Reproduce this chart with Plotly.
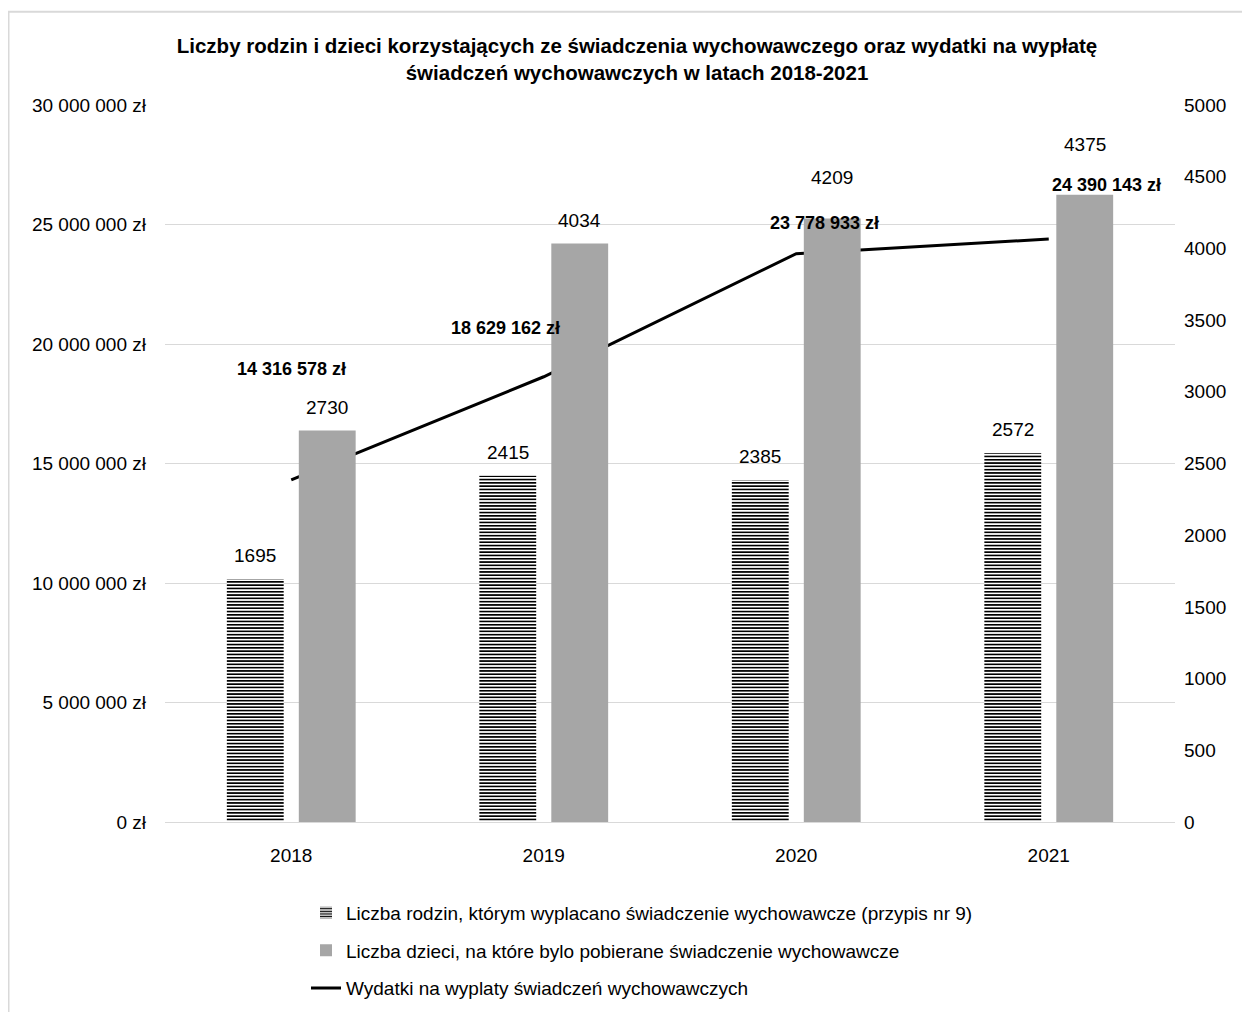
import plotly.graph_objects as go

years = ["2018", "2019", "2020", "2021"]
families = [1695, 2415, 2385, 2572]
children = [2730, 4034, 4209, 4375]
expenses = [14316578, 18629162, 23778933, 24390143]

left_ticks = [0, 5000000, 10000000, 15000000, 20000000, 25000000, 30000000]
left_ticktext = ["0 zł", "5 000 000 zł", "10 000 000 zł", "15 000 000 zł",
                 "20 000 000 zł", "25 000 000 zł", "30 000 000 zł"]
right_ticks = list(range(0, 5001, 500))

name_fam = "Liczba rodzin, którym wyplacano świadczenie wychowawcze (przypis nr 9)"
name_chi = "Liczba dzieci, na które bylo pobierane świadczenie wychowawcze"
name_exp = "Wydatki na wyplaty świadczeń wychowawczych"

FONT = "Liberation Sans Narrow, Arial Narrow, Liberation Sans, Arial, sans-serif"

# plot area as seen on screen (page has 8px body margin)
PL, PR, PT, PB = 165, 1175, 105, 824
PW, PH = PR - PL, PB - PT

def fmt_pln(v):
    return f"{v:,}".replace(",", " ") + " zł"

fig = go.Figure()
fig.add_trace(go.Bar(
    x=years, y=families, name=name_fam, yaxis="y2", legendgroup="a",
    marker=dict(color="white", line=dict(width=0),
                pattern=dict(shape="-", fgcolor="black", bgcolor="white",
                             size=3.3, solidity=0.5, fillmode="replace")),
))
fig.add_trace(go.Bar(
    x=years, y=children, name=name_chi, yaxis="y2", legendgroup="b",
    marker=dict(color="#a6a6a6", line=dict(width=0)),
))
fig.add_trace(go.Scatter(
    x=years, y=expenses, name=name_exp, mode="lines", legendgroup="c",
    line=dict(color="black", width=3),
))

# bar value labels (x given as category index)
child_extra = [0, 0, 17, 27]
for i in range(len(years)):
    fig.add_annotation(x=i, y=families[i], xref="x", yref="y2", text=str(families[i]),
                       showarrow=False, xshift=-36, yanchor="bottom", yshift=11,
                       font=dict(size=19, color="black", family=FONT))
    fig.add_annotation(x=i, y=children[i], xref="x", yref="y2", text=str(children[i]),
                       showarrow=False, xshift=36, yanchor="bottom", yshift=11 + child_extra[i],
                       font=dict(size=19, color="black", family=FONT))

# line value labels (manually placed as in original)
offs = [(0, 111), (-38, 49), (28, 31), (58, 54)]
for i in range(len(years)):
    fig.add_annotation(x=i, y=expenses[i], xref="x", yref="y",
                       text="<b>" + fmt_pln(expenses[i]) + "</b>",
                       showarrow=False, xshift=offs[i][0], yshift=offs[i][1],
                       font=dict(size=18, color="black", family=FONT))

# outer border
fig.add_shape(type="rect", xref="paper", yref="paper",
              x0=(8.5 - PL) / PW, x1=(1270 - PL) / PW,
              y0=(PB - 1030) / PH, y1=(PB - 11.5) / PH,
              line=dict(color="#d9d9d9", width=2), fillcolor="rgba(0,0,0,0)", layer="below")

fig.update_layout(
    width=1250, height=1012,
    margin=dict(l=PL - 8, r=1250 - (PR - 8), t=PT - 8, b=1012 - (PB - 8)),
    paper_bgcolor="white", plot_bgcolor="white",
    font=dict(family=FONT, size=19, color="black"),
    title=dict(text="<b>Liczby rodzin i dzieci korzystających ze świadczenia wychowawczego oraz wydatki na wypłatę<br>świadczeń wychowawczych w latach 2018-2021</b>",
               x=(637 - PL) / PW, xref="paper", xanchor="center",
               y=1 - 45 / 1012, yref="container", yanchor="middle",
               font=dict(size=20.5, family=FONT, color="black")),
    barmode="group", bargap=0.43, bargroupgap=0.21,
    xaxis=dict(type="category", range=[-0.5, 3.5], autorange=False,
               showgrid=False, showline=True, linecolor="#d9d9d9", linewidth=1,
               ticks="", tickfont=dict(size=19), ticklabelstandoff=16),
    yaxis=dict(range=[0, 30000000], tickvals=left_ticks, ticktext=left_ticktext,
               showgrid=True, gridcolor="#d9d9d9", gridwidth=1, zeroline=False,
               showline=False, tickfont=dict(size=19), ticklabelstandoff=18),
    yaxis2=dict(range=[0, 5000], tickvals=right_ticks, overlaying="y", side="right",
                showgrid=False, zeroline=False, showline=False,
                tickfont=dict(size=19), ticklabelstandoff=8),
    legend=dict(orientation="v", x=(306 - PL) / PW, xanchor="left",
                y=(PB - 896) / PH, yanchor="top", tracegroupgap=10,
                font=dict(size=19, family=FONT), itemwidth=30, traceorder="grouped"),
    showlegend=True,
)

fig.write_html("out.html")
